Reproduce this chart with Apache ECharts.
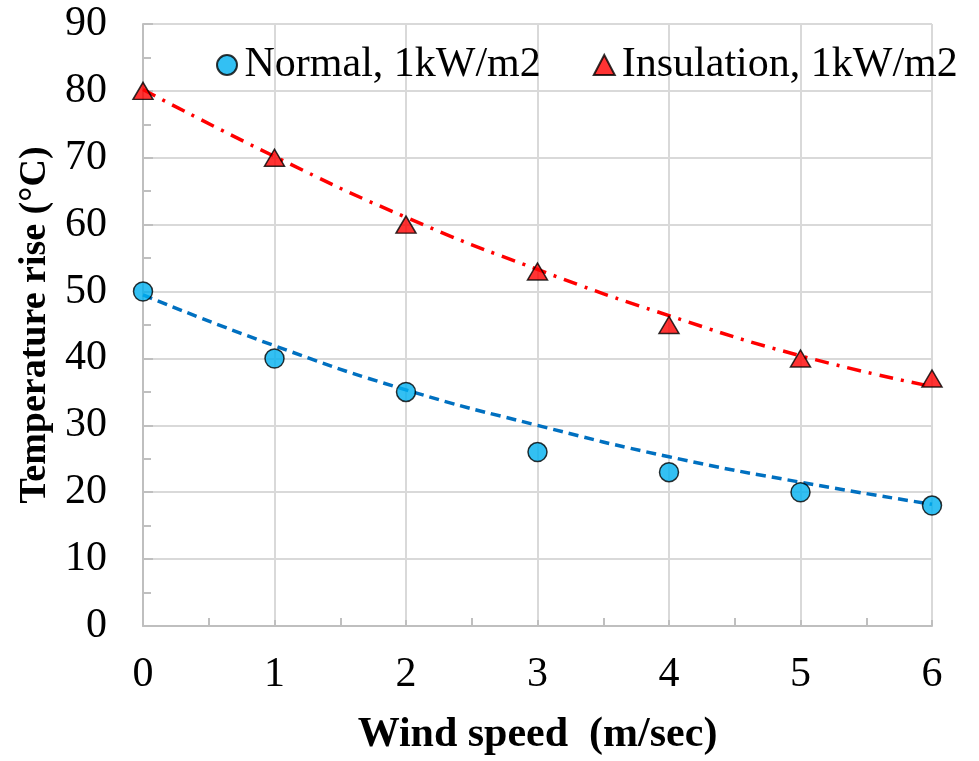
<!DOCTYPE html>
<html>
<head>
<meta charset="utf-8">
<script src="https://cdn.jsdelivr.net/npm/echarts@6/dist/echarts.min.js"></script>
<style>
  html, body { margin: 0; padding: 0; background: #fff; }
  #chart { width: 979px; height: 761px; }
</style>
</head>
<body>
<div id="chart"></div>
<script>
// wind speed (m/sec)
var windSpeed = [0, 1, 2, 3, 4, 5, 6];
// measured temperature rise (°C)
var normalRise = [50, 40, 35, 26, 23, 20, 18];
var insulationRise = [80, 70, 60, 53, 45, 40, 37];
// trend lines
var normalTrend = [49.5, 41.9, 35.3, 30.0, 25.3, 21.5, 18.2];
var insulationTrend = [80.2, 70.2, 61.1, 53.3, 46.4, 40.4, 35.8];

var seriesNames = ['Normal, 1kW/m2', 'Insulation, 1kW/m2'];

function pairs(xs, ys) {
    var out = [];
    for (var i = 0; i < xs.length; i++) {
        out.push([xs[i], ys[i]]);
    }
    return out;
}

var font = '"Liberation Serif", "Times New Roman", serif';

var chart = echarts.init(document.getElementById('chart'));

var option = {
    animation: false,
    backgroundColor: '#fff',
    textStyle: { fontFamily: font },
    grid: { left: 143, right: 47, top: 24, bottom: 134 },
    legend: {
        data: seriesNames,
        top: 39,
        left: 211,
        itemGap: 52,
        itemWidth: 21,
        itemHeight: 20,
        textStyle: { fontFamily: font, fontSize: 42, color: '#000', padding: [0, 0, 0, 2] }
    },
    xAxis: {
        type: 'value',
        min: 0,
        max: 6,
        interval: 1,
        name: 'Wind speed  (m/sec)',
        nameLocation: 'middle',
        nameGap: 88,
        nameTextStyle: { fontFamily: font, fontSize: 42, fontWeight: 'bold', color: '#000' },
        axisLine: { lineStyle: { color: '#bfbfbf', width: 2 } },
        axisTick: { show: true, inside: true, length: 6, lineStyle: { color: '#bfbfbf', width: 2 } },
        minorTick: { show: true, splitNumber: 2, length: 8, lineStyle: { color: '#bfbfbf', width: 2 } },
        axisLabel: { margin: 28, fontFamily: font, fontSize: 42, color: '#000' },
        splitLine: { show: true, lineStyle: { color: '#d9d9d9', width: 2 } }
    },
    yAxis: {
        type: 'value',
        min: 0,
        max: 90,
        interval: 10,
        name: 'Temperature rise (°C)',
        nameLocation: 'middle',
        nameGap: 79,
        nameTextStyle: { fontFamily: font, fontSize: 38, fontWeight: 'bold', color: '#000' },
        axisLine: { show: true, lineStyle: { color: '#bfbfbf', width: 2 } },
        axisTick: { show: true, inside: true, length: 10, lineStyle: { color: '#bfbfbf', width: 2 } },
        minorTick: { show: true, splitNumber: 2, length: 8, lineStyle: { color: '#bfbfbf', width: 2 } },
        axisLabel: { margin: 36, fontFamily: font, fontSize: 42, color: '#000' },
        splitLine: { show: true, lineStyle: { color: '#d9d9d9', width: 2 } }
    },
    series: [{
        name: 'normal trend',
        type: 'line',
        smooth: true,
        symbol: 'none',
        silent: true,
        data: pairs(windSpeed, normalTrend),
        lineStyle: { color: '#0070c0', width: 3.5, type: [10, 6] },
        z: 2
    }, {
        name: 'insulation trend',
        type: 'line',
        smooth: true,
        symbol: 'none',
        silent: true,
        data: pairs(windSpeed, insulationTrend),
        lineStyle: { color: '#ff0000', width: 3.5, type: [14, 8, 3, 8] },
        z: 2
    }, {
        name: seriesNames[0],
        type: 'scatter',
        symbol: 'circle',
        symbolSize: 19,
        data: pairs(windSpeed, normalRise),
        itemStyle: { color: '#00b0f0', borderColor: '#000', borderWidth: 1.5 },
        z: 3
    }, {
        name: seriesNames[1],
        type: 'scatter',
        symbol: 'triangle',
        symbolSize: [20, 17],
        data: pairs(windSpeed, insulationRise),
        itemStyle: { color: '#ff0000', borderColor: '#000', borderWidth: 1.5 },
        z: 3
    }]
};

chart.setOption(option);
</script>
</body>
</html>
